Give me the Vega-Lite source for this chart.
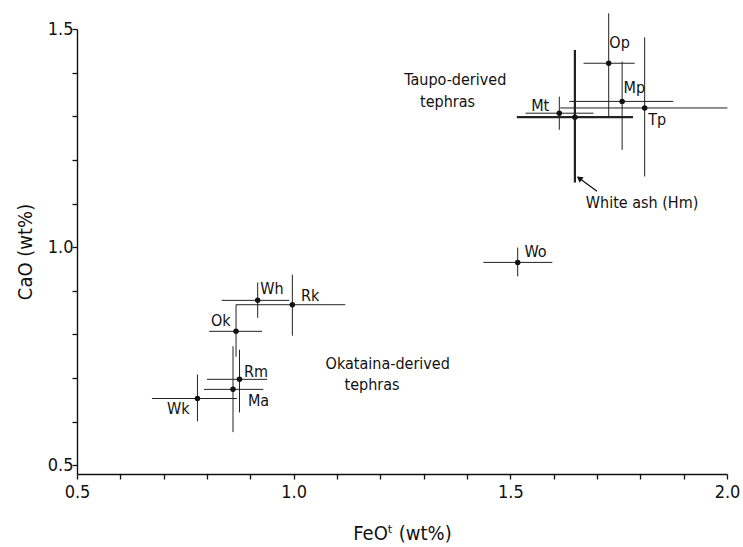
{
  "$schema": "https://vega.github.io/schema/vega-lite/v6.json",
  "width": 650,
  "height": 445,
  "autosize": {"type": "none"},
  "padding": {"left": 77, "top": 29, "right": 16, "bottom": 73},
  "background": "white",
  "config": {
    "view": {"stroke": null},
    "axis": {
      "domainColor": "#111",
      "domainWidth": 1.4,
      "tickColor": "#111",
      "tickWidth": 1.3,
      "grid": false,
      "labelFont": "DejaVu Sans Condensed",
      "labelFontSize": 18,
      "labelColor": "#111",
      "titleFont": "DejaVu Sans Condensed",
      "titleFontSize": 20,
      "titleFontWeight": "normal",
      "titleColor": "#111"
    }
  },
  "datasets": {
    "pts": [
      {"id": "Op", "x": 1.727, "y": 1.4215, "xlo": 1.669, "xhi": 1.787, "ylo": 1.298, "yhi": 1.536},
      {"id": "Mp", "x": 1.758, "y": 1.334, "xlo": 1.636, "xhi": 1.876, "ylo": 1.223, "yhi": 1.425},
      {"id": "Tp", "x": 1.810, "y": 1.319, "xlo": 1.615, "xhi": 2.001, "ylo": 1.162, "yhi": 1.481},
      {"id": "Mt", "x": 1.613, "y": 1.307, "xlo": 1.535, "xhi": 1.692, "ylo": 1.269, "yhi": 1.345},
      {"id": "Hm", "x": 1.649, "y": 1.298, "xlo": 1.515, "xhi": 1.783, "ylo": 1.148, "yhi": 1.452},
      {"id": "Wo", "x": 1.517, "y": 0.965, "xlo": 1.438, "xhi": 1.597, "ylo": 0.933, "yhi": 0.999},
      {"id": "Wh", "x": 0.917, "y": 0.878, "xlo": 0.834, "xhi": 0.990, "ylo": 0.838, "yhi": 0.919},
      {"id": "Rk", "x": 0.997, "y": 0.868, "xlo": 0.867, "xhi": 1.119, "ylo": 0.797, "yhi": 0.937},
      {"id": "Ok", "x": 0.867, "y": 0.807, "xlo": 0.805, "xhi": 0.927, "ylo": 0.749, "yhi": 0.868},
      {"id": "Rm", "x": 0.875, "y": 0.697, "xlo": 0.800, "xhi": 0.939, "ylo": 0.621, "yhi": 0.765},
      {"id": "Ma", "x": 0.860, "y": 0.674, "xlo": 0.793, "xhi": 0.930, "ylo": 0.576, "yhi": 0.773},
      {"id": "Wk", "x": 0.778, "y": 0.653, "xlo": 0.673, "xhi": 0.869, "ylo": 0.601, "yhi": 0.708}
    ],
    "labels": [
      {"text": "Op", "x": 1.752, "y": 1.468},
      {"text": "Mp", "x": 1.786, "y": 1.365},
      {"text": "Tp", "x": 1.839, "y": 1.292},
      {"text": "Mt", "x": 1.569, "y": 1.324},
      {"text": "White ash (Hm)", "x": 1.804, "y": 1.102},
      {"text": "Wo", "x": 1.558, "y": 0.989},
      {"text": "Wh", "x": 0.950, "y": 0.903},
      {"text": "Rk", "x": 1.038, "y": 0.889},
      {"text": "Ok", "x": 0.832, "y": 0.830},
      {"text": "Rm", "x": 0.913, "y": 0.714},
      {"text": "Ma", "x": 0.919, "y": 0.647},
      {"text": "Wk", "x": 0.734, "y": 0.628}
    ],
    "groups": [
      {"text": "Taupo-derived", "x": 1.373, "y": 1.383},
      {"text": "tephras", "x": 1.355, "y": 1.333},
      {"text": "Okataina-derived", "x": 1.217, "y": 0.731},
      {"text": "tephras", "x": 1.181, "y": 0.685}
    ],
    "arrow": [
      {"x": 1.700, "y": 1.128, "x2": 1.659, "y2": 1.158}
    ]
  },
  "layer": [
    {
      "data": {"name": "pts"},
      "mark": {"type": "rule", "color": "#222"},
      "encoding": {
        "x": {
          "field": "xlo", "type": "quantitative",
          "scale": {"domain": [0.5, 2.0], "zero": false, "nice": false},
          "axis": {
            "title": "FeOᵗ (wt%)",
            "values": [0.5, 0.6, 0.7, 0.8, 0.9, 1.0, 1.1, 1.2, 1.3, 1.4, 1.5, 1.6, 1.7, 1.8, 1.9, 2.0],
            "labelExpr": "abs(datum.value*2 - round(datum.value*2)) < 0.001 ? format(datum.value, '.1f') : ''",
            "ticks": true,
            "tickSize": 5,
            "labelPadding": 4,
            "labelFlush": false,
            "labelOverlap": false,
            "titlePadding": 22,
            "encode": {
              "ticks": {"update": {"y2": {"signal": "abs(datum.value*2 - round(datum.value*2)) < 0.001 ? -11 : -6"}}}
            }
          }
        },
        "x2": {"field": "xhi"},
        "y": {
          "field": "y", "type": "quantitative",
          "scale": {"domain": [0.48, 1.5], "zero": false, "nice": false},
          "axis": {
            "title": "CaO (wt%)",
            "values": [0.5, 0.6, 0.7, 0.8, 0.9, 1.0, 1.1, 1.2, 1.3, 1.4, 1.5],
            "labelExpr": "abs(datum.value*2 - round(datum.value*2)) < 0.001 ? format(datum.value, '.1f') : ''",
            "ticks": true,
            "tickSize": 5,
            "labelPadding": -1,
            "labelFlush": false,
            "labelOverlap": false,
            "titlePadding": 12,
            "encode": {
              "ticks": {"update": {"x2": {"signal": "abs(datum.value*2 - round(datum.value*2)) < 0.001 ? 11 : 5"}}}
            }
          }
        },
        "strokeWidth": {"condition": {"test": "datum.id === 'Hm'", "value": 2.2}, "value": 1}
      }
    },
    {
      "data": {"name": "pts"},
      "mark": {"type": "rule", "color": "#222"},
      "encoding": {
        "x": {"field": "x", "type": "quantitative"},
        "y": {"field": "ylo", "type": "quantitative"},
        "y2": {"field": "yhi"},
        "strokeWidth": {"condition": {"test": "datum.id === 'Hm'", "value": 2.2}, "value": 1}
      }
    },
    {
      "data": {"name": "pts"},
      "mark": {"type": "point", "shape": "circle", "filled": true, "color": "#111", "size": 30, "opacity": 1},
      "encoding": {
        "x": {"field": "x", "type": "quantitative"},
        "y": {"field": "y", "type": "quantitative"}
      }
    },
    {
      "data": {"name": "arrow"},
      "mark": {"type": "rule", "color": "#111", "strokeWidth": 1.3},
      "encoding": {
        "x": {"field": "x", "type": "quantitative"},
        "y": {"field": "y", "type": "quantitative"},
        "x2": {"field": "x2"},
        "y2": {"field": "y2"}
      }
    },
    {
      "data": {"name": "arrow"},
      "mark": {"type": "point", "shape": "triangle-up", "filled": true, "color": "#111", "size": 45, "angle": 306, "opacity": 1},
      "encoding": {
        "x": {"field": "x2", "type": "quantitative"},
        "y": {"field": "y2", "type": "quantitative"}
      }
    },
    {
      "data": {"name": "labels"},
      "mark": {"type": "text", "font": "DejaVu Sans Condensed", "fontSize": 16, "color": "#111", "align": "center", "baseline": "middle"},
      "encoding": {
        "x": {"field": "x", "type": "quantitative"},
        "y": {"field": "y", "type": "quantitative"},
        "text": {"field": "text"}
      }
    },
    {
      "data": {"name": "groups"},
      "mark": {"type": "text", "font": "DejaVu Sans Condensed", "fontSize": 16, "color": "#111", "align": "center", "baseline": "middle"},
      "encoding": {
        "x": {"field": "x", "type": "quantitative"},
        "y": {"field": "y", "type": "quantitative"},
        "text": {"field": "text"}
      }
    }
  ]
}
